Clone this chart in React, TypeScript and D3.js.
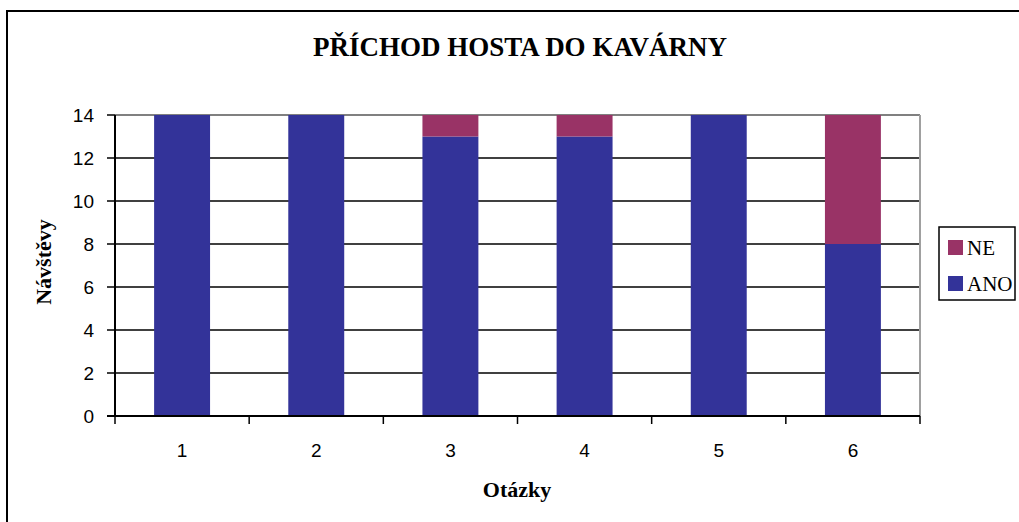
import * as d3 from "d3";

const questions = ["1", "2", "3", "4", "5", "6"];
const ano = [14, 14, 13, 13, 14, 8];
const ne = [0, 0, 1, 1, 0, 6];
const yTicks = [0, 2, 4, 6, 8, 10, 12, 14];
const seriesNames = ["ANO", "NE"];
const colors: Record<string, string> = { ANO: "#333399", NE: "#993366" };

const W = 1019;
const H = 522;
const plot = { left: 115, right: 920, top: 115, bottom: 416 };

export default function App() {
  const rows = questions.map((q, i) => ({ q, ANO: ano[i], NE: ne[i] }));
  const stacked = d3.stack<any>().keys(seriesNames)(rows);

  const x = d3
    .scaleBand()
    .domain(questions)
    .range([plot.left, plot.right])
    .paddingInner(0.583)
    .paddingOuter(0.2915);
  const y = d3.scaleLinear().domain([0, 14]).range([plot.bottom, plot.top]);
  const step = x.step();
  const bounds = d3.range(questions.length + 1).map((i) => plot.left + i * step);

  const serif = "'Liberation Serif', 'Times New Roman', serif";
  const sans = "'Liberation Sans', Arial, sans-serif";

  return (
    <svg
      width={W}
      height={H}
      style={{ position: "absolute", left: 0, top: 0, background: "#fff" }}
    >
      {/* chart area border, runs off the right and bottom */}
      <rect x={7} y={11} width={1100} height={600} fill="#fff" stroke="#000" strokeWidth={2} />

      <text x={520} y={56} textAnchor="middle" fontFamily={serif} fontWeight="bold" fontSize={27}>
        PŘÍCHOD HOSTA DO KAVÁRNY
      </text>

      {/* gridlines */}
      {yTicks.slice(1, -1).map((t) => (
        <line key={t} x1={plot.left} x2={plot.right} y1={y(t)} y2={y(t)} stroke="#000" strokeWidth={1.5} />
      ))}
      <line x1={plot.left} x2={plot.right} y1={plot.top} y2={plot.top} stroke="#808080" strokeWidth={2} />
      <line x1={plot.right} x2={plot.right} y1={plot.top} y2={plot.bottom} stroke="#a0a0a0" strokeWidth={2} />

      {/* bars */}
      {stacked.map((s) => (
        <g key={s.key} fill={colors[s.key]}>
          {s.map((d, i) =>
            d[1] - d[0] > 0 ? (
              <rect
                key={i}
                x={x(questions[i])}
                width={x.bandwidth()}
                y={y(d[1])}
                height={y(d[0]) - y(d[1])}
              />
            ) : null
          )}
        </g>
      ))}

      {/* y axis */}
      <line x1={plot.left} x2={plot.left} y1={plot.top} y2={plot.bottom} stroke="#000" strokeWidth={2} />
      {yTicks.map((t) => (
        <g key={t}>
          <line x1={107} x2={plot.left} y1={y(t)} y2={y(t)} stroke="#000" strokeWidth={1.5} />
          <text x={94} y={y(t) + 6.5} textAnchor="end" fontFamily={sans} fontSize={19}>
            {t}
          </text>
        </g>
      ))}

      {/* x axis */}
      <line x1={plot.left - 8} x2={plot.right} y1={plot.bottom} y2={plot.bottom} stroke="#000" strokeWidth={2} />
      {bounds.map((b, i) => (
        <line key={i} x1={b} x2={b} y1={plot.bottom} y2={plot.bottom + 8} stroke="#000" strokeWidth={1.5} />
      ))}
      {questions.map((q) => (
        <text key={q} x={x(q)! + x.bandwidth() / 2} y={457} textAnchor="middle" fontFamily={sans} fontSize={19}>
          {q}
        </text>
      ))}

      <text x={517} y={497} textAnchor="middle" fontFamily={serif} fontWeight="bold" fontSize={22}>
        Otázky
      </text>
      <text
        transform="translate(51,262) rotate(-90)"
        textAnchor="middle"
        fontFamily={serif}
        fontWeight="bold"
        fontSize={22}
      >
        Návštěvy
      </text>

      {/* legend */}
      <rect x={939} y={227} width={76} height={73} fill="#fff" stroke="#000" strokeWidth={1.5} />
      {["NE", "ANO"].map((k, i) => (
        <g key={k}>
          <rect x={948} y={240 + i * 36} width={15} height={15} fill={colors[k]} />
          <text x={967} y={255 + i * 36} fontFamily={serif} fontSize={21}>
            {k}
          </text>
        </g>
      ))}
    </svg>
  );
}
